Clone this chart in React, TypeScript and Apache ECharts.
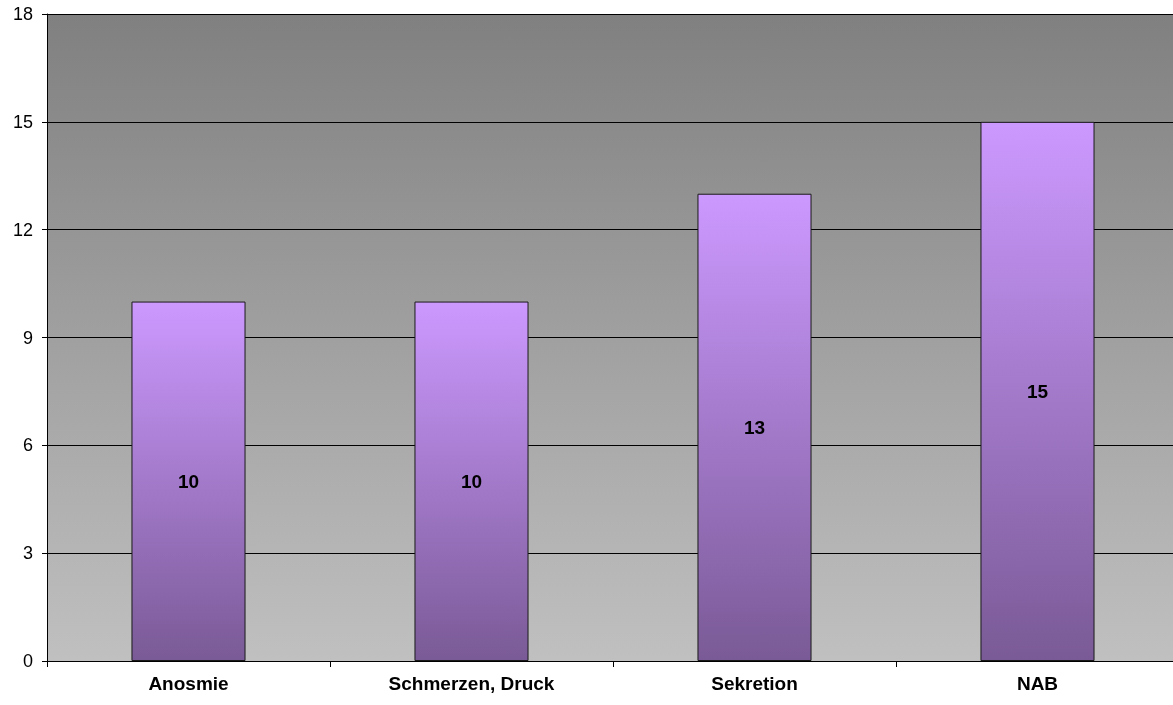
import React, { useEffect, useRef } from "react";
import * as echarts from "echarts";

const categories = ["Anosmie", "Schmerzen, Druck", "Sekretion", "NAB"];
const values = [10, 10, 13, 15];
const yMin = 0;
const yMax = 18;
const yInterval = 3;

export default function App() {
  const ref = useRef<HTMLDivElement>(null);
  useEffect(() => {
    if (!ref.current) return;
    const chart = echarts.init(ref.current, null, { renderer: "svg" });
    const font = "'Liberation Sans', Arial, sans-serif";
    chart.setOption({
      animation: false,
      grid: {
        left: 47,
        top: 14,
        right: 0,
        bottom: 44,
        show: true,
        borderWidth: 0,
        backgroundColor: new echarts.graphic.LinearGradient(0, 0, 0, 1, [
          { offset: 0, color: "#808080" },
          { offset: 1, color: "#c0c0c0" },
        ]),
      },
      xAxis: {
        type: "category",
        data: categories,
        axisLine: { show: true, lineStyle: { color: "#000", width: 1 } },
        axisTick: { show: true, length: 6, alignWithLabel: false, lineStyle: { color: "#000" } },
        axisLabel: {
          color: "#000",
          fontFamily: font,
          fontSize: 19,
          fontWeight: "bold",
          margin: 13,
        },
      },
      yAxis: {
        type: "value",
        min: yMin,
        max: yMax,
        interval: yInterval,
        axisLine: { show: true, lineStyle: { color: "#000", width: 1 } },
        axisTick: { show: true, length: 5, lineStyle: { color: "#000" } },
        axisLabel: {
          color: "#000",
          fontFamily: font,
          fontSize: 18,
          margin: 14,
        },
        splitLine: { show: true, lineStyle: { color: "#000", width: 1 } },
      },
      series: [
        {
          type: "bar",
          data: values,
          barWidth: "40.3%",
          itemStyle: {
            color: new echarts.graphic.LinearGradient(0, 0, 0, 1, [
              { offset: 0, color: "#cc99ff" },
              { offset: 1, color: "#7a5a96" },
            ]),
            borderColor: "#1a1a1a",
            borderWidth: 1,
          },
          label: {
            show: true,
            position: "inside",
            color: "#000",
            fontFamily: font,
            fontSize: 19,
            fontWeight: "bold",
          },
        },
      ],
    });
    return () => chart.dispose();
  }, []);
  return (
    <div
      style={{ position: "fixed", left: 0, top: 0, width: 1173, height: 705, overflow: "hidden" }}
    >
      <div ref={ref} style={{ width: 1179, height: 705 }} />
    </div>
  );
}
